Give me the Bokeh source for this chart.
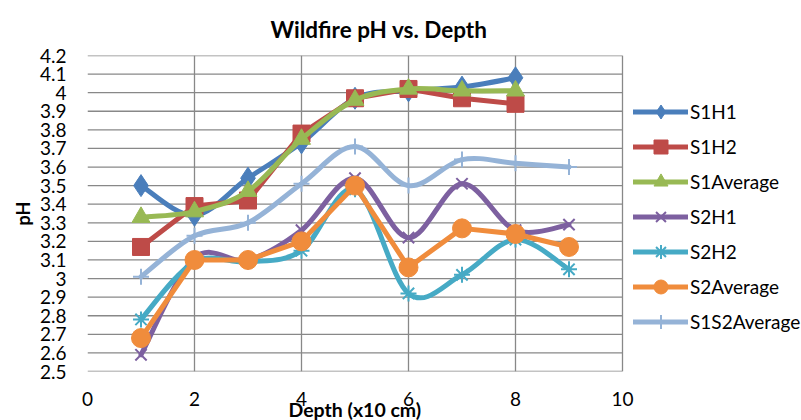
from bokeh.plotting import figure
from bokeh.models import (ColumnDataSource, Legend, LegendItem, FixedTicker,
                          NumeralTickFormatter, Title)
from bokeh.embed import file_html
from bokeh.resources import INLINE

# ---------------- data ----------------
depth8 = [1, 2, 3, 4, 5, 6, 7, 8]
depth9 = [1, 2, 3, 4, 5, 6, 7, 8, 9]

s1h1 = [3.50, 3.34, 3.54, 3.73, 3.97, 4.01, 4.03, 4.08]
s1h2 = [3.17, 3.39, 3.42, 3.78, 3.97, 4.02, 3.97, 3.94]
s1avg = [3.33, 3.36, 3.47, 3.75, 3.96, 4.02, 4.01, 4.01]
s2h1 = [2.59, 3.11, 3.10, 3.26, 3.54, 3.22, 3.51, 3.26, 3.29]
s2h2 = [2.78, 3.09, 3.09, 3.15, 3.48, 2.92, 3.02, 3.21, 3.05]
s2avg = [2.68, 3.10, 3.10, 3.20, 3.50, 3.06, 3.27, 3.24, 3.17]
s1s2avg = [3.01, 3.23, 3.30, 3.51, 3.71, 3.50, 3.64, 3.62, 3.60]

y_ticks = [2.5, 2.6, 2.7, 2.8, 2.9, 3.0, 3.1, 3.2, 3.3, 3.4, 3.5,
           3.6, 3.7, 3.8, 3.9, 4.0, 4.1, 4.2]
x_ticks = [0, 2, 4, 6, 8, 10]
x_min, x_max = 0, 10

series = [
    # name, x, y, color, marker, size, smooth
    ("S1H1", depth8, s1h1, "#4A7EBB", "diamond", 22, True),
    ("S1H2", depth8, s1h2, "#BE4B48", "square", 17, False),
    ("S1Average", depth8, s1avg, "#98B954", "triangle", 18, True),
    ("S2H1", depth9, s2h1, "#7D60A0", "x", 16, True),
    ("S2H2", depth9, s2h2, "#46AAC5", "asterisk", 16, True),
    ("S2Average", depth9, s2avg, "#F08C3C", "circle", 19, False),
    ("S1S2Average", depth9, s1s2avg, "#95B3D7", "cross", 16, True),
]

FONT = "Lato"
GRID = "#888888"

# plot frame spans the legend area too; the axis range 0..10 covers 535 of 714 px
FRAME_W = 714.0
AXIS_W = 535.0
x_end = x_max * FRAME_W / AXIS_W

p = figure(width=801, height=420, x_range=(x_min, x_end), y_range=(2.5, 4.2),
           output_backend="svg", toolbar_location=None,
           min_border_left=87, min_border_right=0,
           min_border_top=53, min_border_bottom=49)

p.title = Title(text="Wildfire pH vs. Depth", align="left", offset=183,
                standoff=26,
                text_font=FONT, text_font_size="22.5px",
                text_font_style="bold", text_color="#000000")

p.outline_line_color = None
p.background_fill_color = "white"
p.border_fill_color = "white"

p.xgrid.ticker = FixedTicker(ticks=x_ticks)
p.xgrid.grid_line_color = GRID
p.xgrid.grid_line_width = 1.3
p.ygrid.grid_line_color = None

# horizontal grid lines limited to the axis extent
p.segment(x0=[x_min] * len(y_ticks), x1=[x_max] * len(y_ticks),
          y0=y_ticks, y1=y_ticks, line_color=GRID, line_width=1.3)

for ax in (p.xaxis[0], p.yaxis[0]):
    ax.axis_line_color = None
    ax.major_tick_line_color = None
    ax.minor_tick_line_color = None
    ax.major_tick_out = 0
    ax.major_tick_in = 0
    ax.major_label_text_font = FONT
    ax.major_label_text_font_size = "19px"
    ax.major_label_text_color = "#000000"
    ax.axis_label_text_font = FONT
    ax.axis_label_text_font_style = "bold"
    ax.axis_label_text_font_size = "18px"
    ax.axis_label_text_color = "#000000"

p.xaxis.ticker = FixedTicker(ticks=x_ticks)
p.xaxis.bounds = (x_min, x_max)
p.yaxis.ticker = FixedTicker(ticks=y_ticks)
p.yaxis.formatter = NumeralTickFormatter(format="0.[0]")
p.xaxis.major_label_standoff = 20
p.yaxis.major_label_standoff = 21
p.yaxis.axis_label = "pH"
p.yaxis.axis_label_standoff = 3

# x-axis title, centred under the 0..10 axis rather than the whole frame
p.add_layout(Title(text="Depth (x10 cm)", align="left", offset=201,
                   vertical_align="top", standoff=-21,
                   text_font=FONT, text_font_size="19.5px",
                   text_font_style="bold", text_color="#000000"), "below")

items = []
for name, xs, ys, color, marker, size, smooth in series:
    n = len(xs)
    if smooth:
        x0, y0, x1, y1, cx0, cy0, cx1, cy1 = [], [], [], [], [], [], [], []
        for i in range(n - 1):
            pxm = xs[max(i - 1, 0)]; pym = ys[max(i - 1, 0)]
            pxp = xs[min(i + 2, n - 1)]; pyp = ys[min(i + 2, n - 1)]
            x0.append(xs[i]); y0.append(ys[i])
            x1.append(xs[i + 1]); y1.append(ys[i + 1])
            cx0.append(xs[i] + (xs[i + 1] - pxm) / 6.0)
            cy0.append(ys[i] + (ys[i + 1] - pym) / 6.0)
            cx1.append(xs[i + 1] - (pxp - xs[i]) / 6.0)
            cy1.append(ys[i + 1] - (pyp - ys[i]) / 6.0)
        src = ColumnDataSource(dict(x0=x0, y0=y0, x1=x1, y1=y1,
                                    cx0=cx0, cy0=cy0, cx1=cx1, cy1=cy1))
        lr = p.bezier(x0="x0", y0="y0", x1="x1", y1="y1", cx0="cx0",
                      cy0="cy0", cx1="cx1", cy1="cy1", source=src,
                      line_color=color, line_width=5, line_cap="round")
    else:
        lr = p.line(xs, ys, line_color=color, line_width=5,
                    line_join="round", line_cap="round")
    if marker in ("x", "asterisk", "cross"):
        mr = p.scatter(xs, ys, marker=marker, size=size, line_color=color,
                       line_width=2, fill_color=color)
    else:
        mr = p.scatter(xs, ys, marker=marker, size=size, line_color=color,
                       fill_color=color, line_width=1)
    items.append(LegendItem(label=name, renderers=[lr, mr]))

legend = Legend(items=items, location=(546, 32), orientation="vertical",
                padding=0, margin=0, spacing=0, label_standoff=2,
                glyph_width=55, glyph_height=35, label_height=35,
                label_text_font=FONT, label_text_font_size="19px",
                label_text_color="#000000",
                border_line_color=None, background_fill_alpha=0)
p.add_layout(legend, "center")

open("out.html", "w").write(file_html(p, INLINE))
